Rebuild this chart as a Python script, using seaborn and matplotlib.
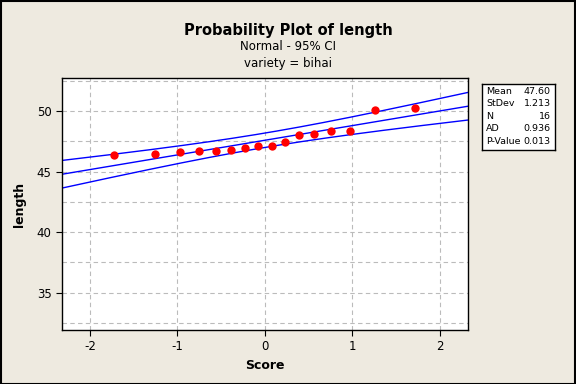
import numpy as np
import pandas as pd
import seaborn as sns
import matplotlib.pyplot as plt
from matplotlib.ticker import MultipleLocator

sns.set_style("white")
plt.rcParams['font.family'] = ['DejaVu Sans']
plt.rcParams['text.color'] = 'black'
plt.rcParams['axes.labelcolor'] = 'black'
plt.rcParams['xtick.color'] = 'black'
plt.rcParams['ytick.color'] = 'black'

# data
score = [-1.720, -1.261, -0.975, -0.753, -0.563, -0.392, -0.231, -0.077,
         0.077, 0.231, 0.392, 0.563, 0.753, 0.975, 1.261, 1.720]
length = [46.34, 46.44, 46.64, 46.67, 46.75, 46.81, 46.94, 47.12,
          47.12, 47.43, 48.07, 48.15, 48.34, 48.36, 50.12, 50.26]
stat_names = ["Mean", "StDev", "N", "AD", "P-Value"]
stat_values = ["47.60", "1.213", "16", "0.936", "0.013"]
mean, sd, n = 47.60, 1.213, 16

df = pd.DataFrame({"Score": score, "length": length})

# fitted line and 95% CI band from mean / stdev
z = np.linspace(-2.4, 2.4, 200)
half = 1.96 * sd * np.sqrt((1 + z**2 / 2) / n)
fit = pd.DataFrame({"z": z, "fit": mean + sd * z,
                    "lo": mean + sd * z - half, "hi": mean + sd * z + half})

bg = "#EEEAE0"
fig = plt.figure(figsize=(5.76, 3.84), dpi=100, facecolor=bg)
ax = fig.add_axes([0.1076, 0.1406, 0.7049, 0.6563])
ax.set_facecolor("white")

for col in ["lo", "fit", "hi"]:
    sns.lineplot(data=fit, x="z", y=col, ax=ax, color="blue", lw=1)
sns.scatterplot(data=df, x="Score", y="length", ax=ax, color="red",
                s=36, edgecolor="red", linewidth=0, zorder=5)

ax.set_xlim(-2.32, 2.32)
ax.set_ylim(31.9, 52.75)
ax.yaxis.set_minor_locator(MultipleLocator(2.5))
ax.grid(True, which="both", color="#BBBBBB", linestyle=(0, (4, 3)), lw=0.8)
ax.set_axisbelow(True)
ax.tick_params(which="major", direction="out", length=4, width=0.8,
               labelsize=8.5, left=True, bottom=True)
ax.tick_params(which="minor", length=0)
ax.set_xticks([-2, -1, 0, 1, 2])
ax.set_xticklabels(["-2", "-1", "0", "1", "2"])
ax.set_yticks([35, 40, 45, 50])
ax.set_yticklabels(["35", "40", "45", "50"])
for sp in ax.spines.values():
    sp.set_color("black")
    sp.set_linewidth(1)
ax.set_xlabel("Score", fontsize=9, fontweight="bold", labelpad=4)
ax.set_ylabel("length", fontsize=9, fontweight="bold", labelpad=8)

fig.text(0.5, 0.92, "Probability Plot of length", ha="center", va="center",
         fontsize=10.5, fontweight="bold")
fig.text(0.5, 0.878, "Normal - 95% CI", ha="center", va="center", fontsize=8.5)
fig.text(0.5, 0.835, "variety = bihai", ha="center", va="center", fontsize=8.5)

# stats box
bx = fig.add_axes([482 / 576, 1 - 150 / 384, 73 / 576, 66 / 384])
bx.set_facecolor("white")
bx.set_xticks([])
bx.set_yticks([])
for sp in bx.spines.values():
    sp.set_color("black")
    sp.set_linewidth(1)
for i, (nm, v) in enumerate(zip(stat_names, stat_values)):
    yy = 0.89 - i * 0.19
    bx.text(0.06, yy, nm, ha="left", va="center", fontsize=6.8, transform=bx.transAxes)
    bx.text(0.94, yy, v, ha="right", va="center", fontsize=6.8, transform=bx.transAxes)

# outer border
fig.patches.append(plt.Rectangle((0.001, 0.001), 0.997, 0.996, transform=fig.transFigure,
                                 fill=False, edgecolor="black", lw=1.5))

fig.savefig("out.png", dpi=100, facecolor=bg)
